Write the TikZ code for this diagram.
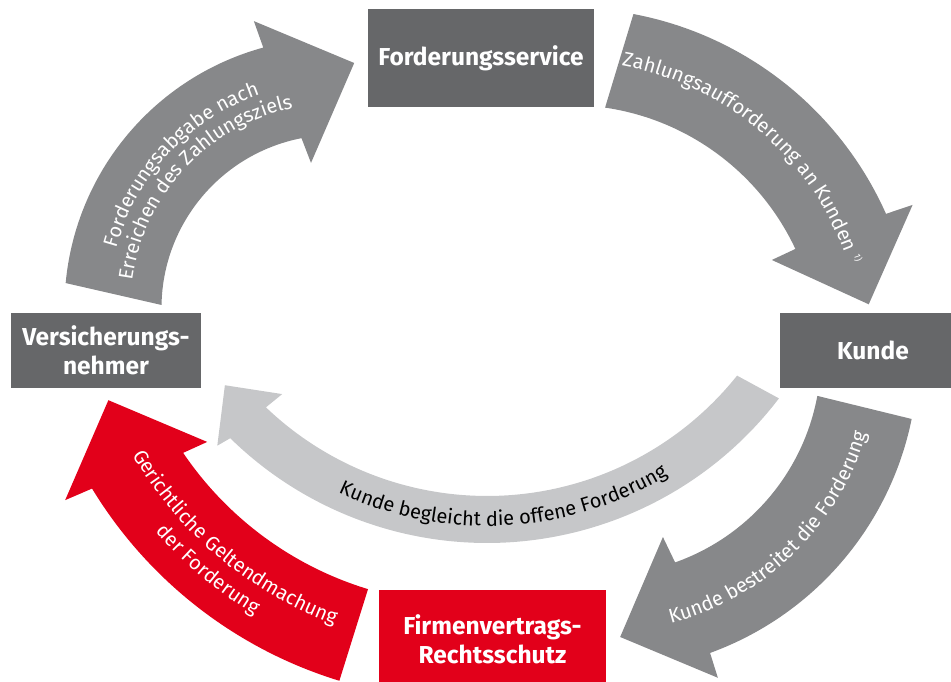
\documentclass[tikz,border=0pt]{standalone}
\usepackage{fontspec}
\setmainfont{Fira Sans}
\usetikzlibrary{decorations.text}
\definecolor{boxgray}{RGB}{102,103,105}
\definecolor{arrgray}{RGB}{135,136,138}
\definecolor{paygray}{RGB}{198,199,201}
\definecolor{brandred}{RGB}{226,0,26}
\newcommand{\arrfont}{\fontsize{20}{20}\selectfont}
\begin{document}
\begin{tikzpicture}[x=1pt,y=1pt,
  box/.style={rectangle, inner sep=0pt, text=white, align=center,
    font=\bfseries\fontsize{24.5}{29}\selectfont},
  curvetext/.style={decorate, decoration={text along path, text align=center, text={#1}}}]
\useasboundingbox (0,0) rectangle (951,682);

% boxes
\node[box, fill=boxgray, minimum width=226pt, minimum height=98pt] (fs) at (481,624) {Forderungsservice};
\node[box, fill=boxgray, minimum width=190pt, minimum height=75pt] (vn) at (106,331.5) {Versicherungs-\\nehmer};
\node[box, fill=boxgray, minimum width=186pt, minimum height=75pt] (ku) at (873,331.5) {Kunde};
\node[box, fill=brandred, minimum width=227pt, minimum height=99pt] (fr) at (492.5,42.5) {Firmenvertrags-\\Rechtsschutz};

% arrow 1: Versicherungsnehmer -> Forderungsservice
\fill[arrgray, shift={(334.5,374)}] (174.7:270) arc[start angle=174.7, end angle=105.3, radius=270]
  -- (105.7:298) -- (85.4:245.8) -- (99.2:147) -- (101:173)
  arc[start angle=101, end angle=179, radius=173] -- cycle;
\path[shift={(334.5,374)}, curvetext={|\color{white}\arrfont|Forderungsabgabe nach}]
  (185:226) arc[start angle=185, end angle=89, radius=226];
\path[shift={(334.5,374)}, curvetext={|\color{white}\arrfont|Erreichen des Zahlungsziels}]
  (195:204) arc[start angle=195, end angle=79, radius=204];

% arrow 2: Forderungsservice -> Kunde
\fill[arrgray, shift={(569,327)}] (79.3:347) arc[start angle=79.3, end angle=24, radius=347]
  -- (23.6:375) -- (9.6:304) -- (25.1:224) -- (25.1:250)
  arc[start angle=25.1, end angle=81.7, radius=250] -- cycle;
\path[shift={(569,327)}, curvetext={|\color{white}\arrfont|Zahlungsaufforderung an Kunden}]
  (100:294) arc[start angle=100, end angle=0, radius=294];
\node[rotate=-71.4, text=white, inner sep=0pt, font=\fontsize{9}{9}\selectfont] (fn) at (858,424) {1)};

% arrow 3: Kunde -> Firmenvertrags-Rechtsschutz
\fill[arrgray, shift={(602,326)}] (-11.5:316) arc[start angle=-11.5, end angle=-70, radius=316]
  -- (-70.2:342) -- (-86.3:281.6) -- (-71.4:191) -- (-70.5:219)
  arc[start angle=-70.5, end angle=-10.5, radius=219] -- cycle;
\path[shift={(602,326)}, curvetext={|\color{white}\arrfont|Kunde bestreitet die Forderung}]
  (-96:276) arc[start angle=-96, end angle=4, radius=276];

% arrow 4: Firmenvertrags-Rechtsschutz -> Versicherungsnehmer
\fill[brandred, shift={(468,422)}] (253:440) arc[start angle=253, end angle=211.3, radius=440]
  -- (210.8:469) -- (201.3:386) -- (214.9:318) -- (214.1:344)
  arc[start angle=214.1, end angle=253.1, radius=344] -- cycle;
\path[shift={(468,422)}, curvetext={|\color{white}\arrfont|Gerichtliche Geltendmachung}]
  (175:388) arc[start angle=175, end angle=285, radius=388];
\path[shift={(468,422)}, curvetext={|\color{white}\arrfont|der Forderung}]
  (175:414) arc[start angle=175, end angle=285, radius=414];

% arrow 5: Kunde -> Versicherungsnehmer (payment)
\fill[paygray, shift={(487,506)}] (-37.3:367) arc[start angle=-37.3, end angle=-134.4, radius=367]
  -- (-135:381.4) -- (-141.4:335.4) -- (-133.2:299.2) -- (-133.7:320)
  arc[start angle=-133.7, end angle=-38.6, radius=320] -- cycle;
\path[shift={(487,506)}, curvetext={|\color{black}\arrfont|Kunde begleicht die offene Forderung}]
  (-135:350) arc[start angle=-135, end angle=-39, radius=350];
\end{tikzpicture}
\end{document}
